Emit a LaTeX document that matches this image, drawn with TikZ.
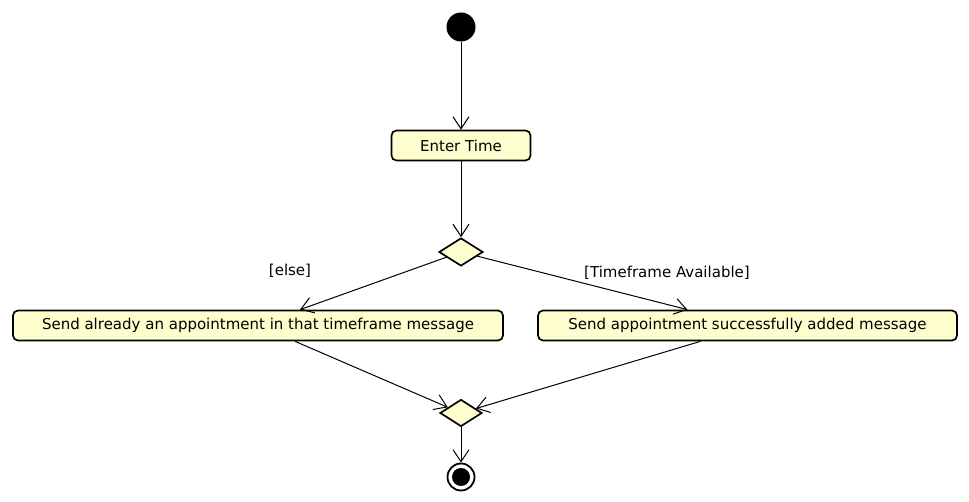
\documentclass[tikz,border=0pt]{standalone}
\usepackage{fontspec}
\setmainfont{DejaVu Sans}
\usetikzlibrary{arrows.meta,shapes.geometric,calc}
\definecolor{uyellow}{HTML}{FEFECE}
\begin{document}
\begin{tikzpicture}[x=1pt,y=-1pt,
  lbl/.style={font=\fontsize{15}{18}\selectfont, inner sep=0pt},
  act/.style={draw=black, line width=1.7pt, fill=uyellow, rounded corners=5pt,
    minimum height=30pt, inner sep=0pt, font=\fontsize{15}{18}\selectfont},
  dec/.style={diamond, draw=black, line width=1.7pt, fill=uyellow,
    minimum width=44pt, minimum height=28pt, inner sep=0pt},
  arr/.style={line width=1pt, -{Straight Barb[length=12pt,width=16pt,line width=1pt]}}]
\useasboundingbox (0,0) rectangle (969,502);

\node[circle, fill=black, minimum size=29pt, inner sep=0pt] (start) at (461,27) {};
\node[act, minimum width=139pt] (et) at (461,145.5) {Enter Time};
\node[dec] (d1) at (461,252) {};
\node[act, minimum width=490pt] (lb) at (258,325.5) {Send already an appointment in that timeframe message};
\node[act, minimum width=419pt] (rb) at (747.5,325.5) {Send appointment successfully added message};
\node[dec, minimum width=42pt, minimum height=27pt] (d2) at (461,413) {};
\node[circle, draw=black, line width=1.8pt, fill=white, minimum size=27pt, inner sep=0pt] (end) at (461,477) {};
\node[circle, fill=black, minimum size=18pt, inner sep=0pt] (endin) at (end) {};

\node[lbl] (lelse) at (290,271) {[else]};
\node[lbl] (lavail) at (667,273) {[Timeframe Available]};

\draw[arr] (start) -- (et);
\draw[arr] (et) -- (d1);
\draw[arr] (d1) -- ([xshift=42pt]lb.north);
\draw[arr] (d1) -- ([xshift=-60pt]rb.north);
\draw[arr] ([xshift=37pt]lb.south) -- (d2);
\draw[arr] ([xshift=-47pt]rb.south) -- (d2);
\draw[arr] (d2) -- (end);
\end{tikzpicture}
\end{document}
